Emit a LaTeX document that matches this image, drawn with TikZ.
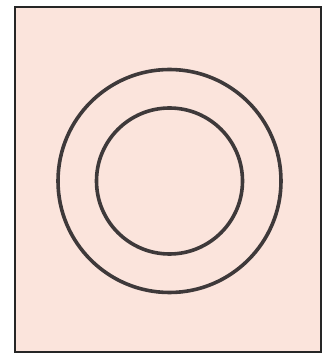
\documentclass[tikz,border=0pt]{standalone}
\usepackage{xcolor}
\usepackage{tikz}
\definecolor{panelpink}{HTML}{FBE4DC}
\definecolor{ringgray}{HTML}{3E393A}

\begin{document}
\begin{tikzpicture}[x=1pt,y=1pt,line width=0.5pt]
    \useasboundingbox (0,0) rectangle (330,354);
    \draw[fill=panelpink, draw=black!85, line width=1.8pt] (15,2) rectangle (321,347);
    \coordinate (ctr) at (169.5,173);
    \draw[line width=3.6pt, ringgray] (ctr) circle[radius=111.5];
    \draw[line width=3.6pt, ringgray] (ctr) circle[radius=73];
  \end{tikzpicture}
\end{document}
